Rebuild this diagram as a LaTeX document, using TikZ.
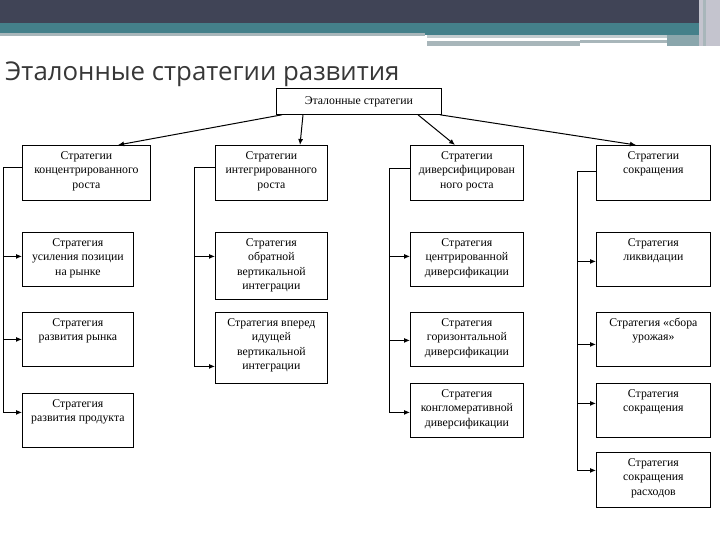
\documentclass[tikz,border=0pt]{standalone}
\usepackage{fontspec}
\setmainfont{Liberation Serif}
\newfontfamily\titlefont{Open Sans}
\usetikzlibrary{arrows.meta}

\definecolor{hdrdark}{RGB}{64,68,86}
\definecolor{hdrteal}{RGB}{68,128,138}
\definecolor{hdrgray}{RGB}{168,182,186}
\definecolor{hdrside}{RGB}{196,196,206}
\definecolor{titlegray}{RGB}{55,55,55}

% top-aligned text in a fixed box: width, height, text
\newcommand{\strat}[3]{\parbox[c][#2pt][t]{#1pt}{\centering\rule{0pt}{14pt}#3\par}}

\begin{document}
\begin{tikzpicture}[
  x = 1pt, y = -1pt,
  every node/.style = {inner sep=0pt},
  sbox/.style  = {draw, line width=0.8pt, anchor=north west,
                  font=\fontsize{11.8}{14.5}\selectfont},
  link/.style  = {draw, line width=1pt},
  arr/.style   = {link, -{Latex[length=6pt, width=5pt]}},
]
\useasboundingbox (0,0) rectangle (720,540);

% header bands
\fill[hdrdark] (0,0) rectangle (720,23);
\fill[hdrteal] (0,23) rectangle (705,33);
\fill[hdrgray] (0,33) rectangle (425,36);
\fill[hdrteal] (425,33) rectangle (705,35);
\fill[hdrgray!70] (427,35) rectangle (667,38);
\fill[hdrgray] (427,41) rectangle (580,46);
\fill[hdrgray] (580,40) rectangle (667,43);
\fill[hdrgray!70!hdrteal] (667,35) rectangle (705,46);
\fill[hdrside] (699,0) rectangle (720,46);
\fill[hdrgray] (703,0) rectangle (706,46);

\node[anchor=base west, text=titlegray,
      font=\titlefont\fontsize{25.8}{30}\selectfont] (title) at (5,81)
  {Эталонные стратегии развития};

% level 0
\node[draw, line width=0.8pt, anchor=north west, minimum width=165pt,
      minimum height=26pt, font=\fontsize{11.8}{14.5}\selectfont] (top) at (276,88)
  {Эталонные стратегии};

% row 1
\node[sbox] (a1) at (22,145)  {\strat{128}{55}{Стратегии\\ концентрированного\\ роста}};
\node[sbox] (b1) at (215,145) {\strat{112}{55}{Стратегии\\ интегрированного\\ роста}};
\node[sbox] (c1) at (410,145) {\strat{113}{55}{Стратегии\\ диверсифицирован\\ ного роста}};
\node[sbox] (d1) at (596,145) {\strat{114}{55}{Стратегии\\ сокращения}};
% row 2
\node[sbox] (a2) at (22,232)  {\strat{111}{54}{Стратегия\\ усиления позиции\\ на рынке}};
\node[sbox] (b2) at (215,232) {\strat{112}{67}{Стратегия\\ обратной\\ вертикальной\\ интеграции}};
\node[sbox] (c2) at (410,232) {\strat{113}{54}{Стратегия\\ центрированной\\ диверсификации}};
\node[sbox] (d2) at (596,232) {\strat{114}{54}{Стратегия\\ ликвидации}};
% row 3
\node[sbox] (a3) at (22,312)  {\strat{111}{54}{Стратегия\\ развития рынка}};
\node[sbox] (b3) at (215,312) {\strat{112}{71}{Стратегия вперед\\ идущей\\ вертикальной\\ интеграции}};
\node[sbox] (c3) at (410,312) {\strat{113}{54}{Стратегия\\ горизонтальной\\ диверсификации}};
\node[sbox] (d3) at (596,312) {\strat{114}{54}{Стратегия «сбора\\ урожая»}};
% row 4
\node[sbox] (a4) at (22,393)  {\strat{111}{54}{Стратегия\\ развития продукта}};
\node[sbox] (c4) at (410,383) {\strat{113}{54}{Стратегия\\ конгломеративной\\ диверсификации}};
\node[sbox] (d4) at (596,383) {\strat{114}{54}{Стратегия\\ сокращения}};
\node[sbox] (d5) at (596,452) {\strat{114}{55}{Стратегия\\ сокращения\\ расходов}};

% from the root
\draw[arr] ([xshift=6pt]top.south west)  -- ([xshift=96pt]a1.north west);
\draw[arr] ([xshift=27pt]top.south west) -- ([xshift=85pt]b1.north west);
\draw[arr] ([xshift=142pt]top.south west) -- ([xshift=45pt]c1.north west);
\draw[arr] ([xshift=164pt]top.south west) -- ([xshift=40pt]d1.north west);

% side spines
\coordinate (sa) at (3,0);
\coordinate (sb) at (194,0);
\coordinate (sc) at (389,0);
\coordinate (sd) at (577,0);

\foreach \n/\s/\dy in {a2/sa/3, a3/sa/0, a4/sa/8,
                       b2/sb/9.5, b3/sb/-18.5,
                       c2/sc/3, c3/sc/-1, c4/sc/-2,
                       d2/sd/-2, d3/sd/-5, d4/sd/7, d5/sd/9.5} {
  \coordinate (\n-in) at ([yshift=\dy pt]\n.west);
  \draw[arr] (\s |- \n-in) -- (\n-in);
}

\draw[link] ([yshift=5.5pt]a1.west) -| (sa |- a4-in);
\draw[link] ([yshift=5.5pt]b1.west) -| (sb |- b3-in);
\draw[link] ([yshift=4.5pt]c1.west) -| (sc |- c4-in);
\draw[link] ([yshift=1.5pt]d1.west) -| (sd |- d5-in);

\end{tikzpicture}
\end{document}
